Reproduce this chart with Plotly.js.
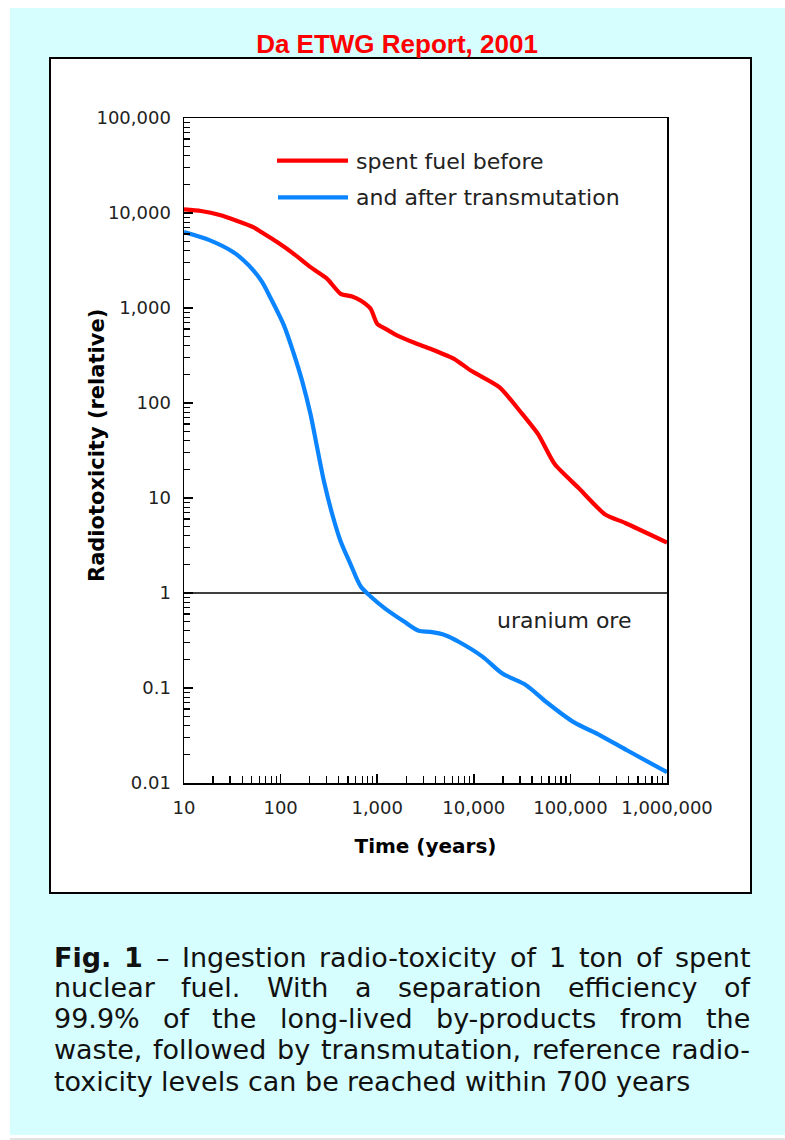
<!DOCTYPE html>
<html><head><meta charset="utf-8">
<script src="https://cdn.plot.ly/plotly-3.0.1.min.js"></script>
<style>html,body{margin:0;padding:0;background:#fff;}#chart{width:785px;height:1140px;}</style>
</head><body><div id="chart"></div>
<script>
// ---- data ----
const spentYears = [10, 15, 24, 35, 52, 70, 92, 140, 204, 300, 418, 550, 673, 855, 1000, 1200, 1620, 2500, 3600, 6300, 9400, 18500, 31000, 46300, 69000, 121000, 229000, 369000, 1000000];
const spentTox   = [10900, 10500, 9460, 8300, 7110, 5900, 4940, 3650, 2690, 2050, 1410, 1320, 1197, 980, 680, 610, 512, 425, 370, 290, 218, 146, 79, 47, 22.6, 12.8, 6.7, 5.46, 3.4];
const transYears = [10, 18.6, 32.5, 41, 52.5, 64, 78, 108, 137, 167, 204, 239, 281, 343, 418, 532, 676, 855, 1200, 1900, 2690, 3550, 5070, 6980, 12300, 19800, 34800, 56000, 107000, 203000, 385000, 1000000];
const transTox   = [6300, 5150, 3870, 3200, 2480, 1890, 1300, 660, 330, 171, 76, 33.9, 15, 6.7, 3.5, 1.99, 1.17, 0.92, 0.69, 0.50, 0.40, 0.39, 0.36, 0.307, 0.214, 0.142, 0.107, 0.0715, 0.044, 0.0318, 0.0221, 0.013];
const oreYears = [10, 1000000];
const oreTox = [1, 1];

const seriesNames = ['spent fuel before', 'and after transmutation'];
const oreLabel = 'uranium ore';
const xTickVals = [10, 100, 1000, 10000, 100000, 1000000];
const xTickText = ['10', '100', '1,000', '10,000', '100,000', '1,000,000'];
const yTickVals = [0.01, 0.1, 1, 10, 100, 1000, 10000, 100000];
const yTickText = ['0.01', '0.1', '1', '10', '100', '1,000', '10,000', '100,000'];
const titleText = 'Da ETWG Report, 2001';
const xTitle = 'Time (years)';
const yTitle = 'Radiotoxicity (relative)';
const captionLines = [
  [['Fig.', true], ['1', true], ['–', false], ['Ingestion', false], ['radio-toxicity', false], ['of', false], ['1', false], ['ton', false], ['of', false], ['spent', false]],
  'nuclear fuel. With a separation efficiency of',
  '99.9% of the long-lived by-products from the',
  'waste, followed by transmutation, reference radio-',
  'toxicity levels can be reached within 700 years'
];

// ---- geometry helpers (page pixels -> paper coords) ----
const W = 785, H = 1140;
const M = {l: 184, r: 118, t: 118, b: 357};
const PW = W - M.l - M.r, PH = H - M.t - M.b;
const px = v => (v - M.l) / PW;
const py = v => (H - M.b - v) / PH;

function minorVals(lo, hi) {
  const out = [];
  for (let e = lo; e < hi; e++) for (let k = 2; k <= 9; k++) out.push(k * Math.pow(10, e));
  return out;
}

const RED = '#ff0000', BLUE = '#0a84ff';
const traces = [
  {x: oreYears, y: oreTox, mode: 'lines', line: {color: '#000', width: 1.3}, showlegend: false, hoverinfo: 'skip'},
  {x: spentYears, y: spentTox, name: seriesNames[0], mode: 'lines', line: {color: RED, width: 4.2, shape: 'spline', smoothing: 0.6}, showlegend: false},
  {x: transYears, y: transTox, name: seriesNames[1], mode: 'lines', line: {color: BLUE, width: 4.2, shape: 'spline', smoothing: 0.8}, showlegend: false}
];

const tickFont = {family: 'DejaVu Sans', size: 18, color: '#222'};
const axisCommon = {
  type: 'log', showgrid: false, zeroline: false, showline: true, linecolor: '#000', linewidth: 1.5, mirror: true,
  ticks: 'inside', ticklen: 9, tickwidth: 1.5, tickcolor: '#000', tickfont: tickFont, tickmode: 'array',
  ticklabelstandoff: 8
};

const shapes = [
  {type: 'rect', xref: 'paper', yref: 'paper', x0: px(10), x1: px(790), y0: py(8), y1: py(1135), fillcolor: '#d6fefe', line: {width: 0}, layer: 'below'},
  {type: 'line', xref: 'paper', yref: 'paper', x0: px(10), x1: px(790), y0: py(1139), y1: py(1139), line: {color: '#d8d8d8', width: 1.5}, layer: 'below'},
  {type: 'rect', xref: 'paper', yref: 'paper', x0: px(50), x1: px(751), y0: py(58), y1: py(893), fillcolor: '#ffffff', line: {color: '#000', width: 2}, layer: 'below'},
  {type: 'line', xref: 'paper', yref: 'paper', x0: px(277), x1: px(348), y0: py(160.7), y1: py(160.7), line: {color: RED, width: 4.2}},
  {type: 'line', xref: 'paper', yref: 'paper', x0: px(278), x1: px(348), y0: py(197.3), y1: py(197.3), line: {color: BLUE, width: 4.2}}
];

const labFont = {family: 'DejaVu Sans', size: 22, color: '#222'};
const annotations = [
  {xref: 'paper', yref: 'paper', x: px(356), y: py(161.5), xanchor: 'left', yanchor: 'middle', text: seriesNames[0], showarrow: false, font: labFont, borderpad: 0, borderwidth: 0},
  {xref: 'paper', yref: 'paper', x: px(356), y: py(197.5), xanchor: 'left', yanchor: 'middle', text: seriesNames[1], showarrow: false, font: labFont, borderpad: 0, borderwidth: 0},
  {xref: 'paper', yref: 'paper', x: px(564), y: py(620), xanchor: 'center', yanchor: 'middle', text: oreLabel, showarrow: false, font: labFont},
  {xref: 'paper', yref: 'paper', x: px(97), y: py(446), xanchor: 'center', yanchor: 'middle', textangle: -90, text: '<b>' + yTitle + '</b>', showarrow: false, font: {family: 'DejaVu Sans', size: 21, color: '#000'}}
];

// ---- justified caption, word by word ----
const capFamily = 'DejaVu Sans';
const capLeft = 54, capRight = 750, capW = capRight - capLeft;
const lastLineWidth = 671;
const capCenters = [957, 987, 1018, 1049, 1081];
const ctx = document.createElement('canvas').getContext('2d');
function measure(word, bold, size) {
  ctx.font = (bold ? 'bold ' : '') + size + 'px "' + capFamily + '"';
  return ctx.measureText(word).width;
}
const lines = captionLines.map(l => Array.isArray(l) ? l : l.split(' ').map(w => [w, false]));
function natWidth(line, size) {
  let w = 0;
  line.forEach((p, i) => { w += measure(p[0], p[1], size); if (i) w += measure(' ', false, size); });
  return w;
}
let capSize = 26;
capSize = capSize * lastLineWidth / natWidth(lines[lines.length - 1], capSize);
const maxNat = Math.max(...lines.map(l => natWidth(l, capSize)));
if (maxNat > capW * 0.985) capSize = capSize * capW * 0.985 / maxNat;
lines.forEach((line, li) => {
  const widths = line.map(p => measure(p[0], p[1], capSize));
  const sum = widths.reduce((a, b) => a + b, 0);
  const last = li === lines.length - 1;
  const gap = last ? measure(' ', false, capSize) : (capW - sum) / (line.length - 1);
  let x = capLeft;
  line.forEach((p, i) => {
    annotations.push({xref: 'paper', yref: 'paper', x: px(x), y: py(capCenters[li]), xanchor: 'left', yanchor: 'middle',
      text: p[1] ? '<b>' + p[0] + '</b>' : p[0], showarrow: false, borderpad: 0, borderwidth: 0,
      font: {family: capFamily, size: capSize, color: '#111'}});
    x += widths[i] + gap;
  });
});

const layout = {
  width: W, height: H, margin: M, paper_bgcolor: '#ffffff', plot_bgcolor: '#ffffff', showlegend: false,
  title: {text: '<b>' + titleText + '</b>', x: 397 / W, xanchor: 'center', xref: 'container', y: 1 - 44 / H, yanchor: 'middle', yref: 'container',
    font: {family: 'Liberation Sans', size: 26, color: '#ff0000'}},
  xaxis: Object.assign({}, axisCommon, {range: [1, 6], tickvals: xTickVals, ticktext: xTickText,
    minor: {tickmode: 'array', tickvals: minorVals(1, 6), ticks: 'inside', ticklen: 7, tickwidth: 1.3, tickcolor: '#000', showgrid: false},
    title: {text: '<b>' + xTitle + '</b>', standoff: 22, font: {family: 'DejaVu Sans', size: 20, color: '#000'}}}),
  yaxis: Object.assign({}, axisCommon, {range: [-2, 5], tickvals: yTickVals, ticktext: yTickText,
    minor: {tickmode: 'array', tickvals: minorVals(-2, 5), ticks: 'inside', ticklen: 6, tickwidth: 1.3, tickcolor: '#000', showgrid: false}}),
  shapes: shapes, annotations: annotations
};
Plotly.newPlot('chart', traces, layout, {displayModeBar: false, staticPlot: true});
</script></body></html>
